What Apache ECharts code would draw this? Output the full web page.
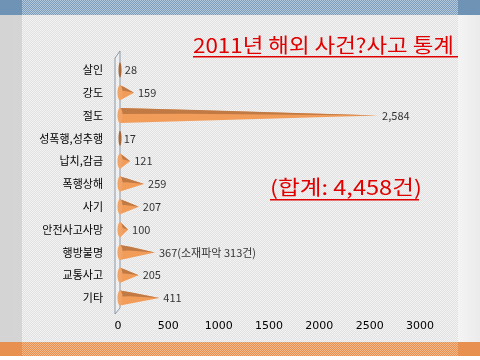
<!DOCTYPE html>
<html><head><meta charset="utf-8">
<script src="https://cdn.jsdelivr.net/npm/echarts@6/dist/echarts.min.js"></script>
<style>html,body{margin:0;padding:0;background:#fff}#c{width:480px;height:360px}</style>
</head><body><div id="c"></div>
<script>
const categories = ['살인','강도','절도','성폭행,성추행','납치,감금','폭행상해','사기','안전사고사망','행방불명','교통사고','기타'];
const values = [28,159,2584,17,121,259,207,100,367,205,411];
const valueLabels = ['28','159','2,584','17','121','259','207','100','367(소재파악 313건)','205','411'];
const xTicks = [0,500,1000,1500,2000,2500,3000];
const titleText = '2011년 해외 사건?사고 통계';
const totalText = '(합계: 4,458건)';

function dotPattern(c1, c2){
  const cv = document.createElement('canvas'); cv.width = 2; cv.height = 2;
  const g = cv.getContext('2d');
  g.fillStyle = c1; g.fillRect(0,0,2,2);
  g.fillStyle = c2; g.fillRect(0,0,1,1); g.fillRect(1,1,1,1);
  return {image: cv, repeat: 'repeat'};
}

const chart = echarts.init(document.getElementById('c'), null, {renderer:'canvas'});
const KR = '"Noto Sans CJK KR", "DejaVu Sans", sans-serif';

chart.setOption({
  animation: false,
  backgroundColor: '#ffffff',
  graphic: [
    {type:'rect', z:-10, shape:{x:0,y:0,width:480,height:342}, style:{fill:new echarts.graphic.LinearGradient(0,0,1,0,[{offset:0,color:'#d4d4d4'},{offset:1,color:'#e4e4e4'}])}},
    {type:'rect', z:-9, shape:{x:22,y:0,width:436,height:342}, style:{fill:dotPattern('#e2e2e2','#f2f2f2')}},
    {type:'rect', z:-9, shape:{x:458,y:0,width:22,height:342}, style:{fill:new echarts.graphic.LinearGradient(0,0,1,0,[{offset:0,color:'#f4f4f4'},{offset:1,color:'#ebebeb'}])}},
    {type:'rect', z:-8, shape:{x:0,y:0,width:480,height:15}, style:{fill:'#6f93b5'}},
    {type:'rect', z:-7, shape:{x:22,y:0,width:436,height:15}, style:{fill:dotPattern('#7d9dbb','#b3c8da')}},
    {type:'rect', z:-8, shape:{x:0,y:342,width:480,height:14}, style:{fill:'#e8904f'}},
    {type:'rect', z:-7, shape:{x:22,y:342,width:436,height:14}, style:{fill:dotPattern('#e8904f','#f2b98c')}},
    // wall of the 3D chart
    {type:'polyline', z:5, shape:{points:[[115,58],[120,51],[120,308],[115,314],[115,58]]}, style:{stroke:'#8c98a8', lineWidth:1, fill:'rgba(255,255,255,0.25)'}},
    // title
    {type:'text', z:10, x:193, y:35, scaleX:1.12, style:{text:titleText, fill:'#e00000', font:'20px '+KR}},
    {type:'rect', z:10, shape:{x:193,y:56,width:265,height:1.5}, style:{fill:'#e00000'}},
    {type:'text', z:10, x:270, y:177, scaleX:1.18, style:{text:totalText, fill:'#e00000', font:'20px '+KR}},
    {type:'rect', z:10, shape:{x:270,y:199,width:149,height:1.5}, style:{fill:'#e00000'}}
  ],
  grid: {left:118, right:60, top:58.5, bottom:50.5, containLabel:false},
  xAxis: {
    type:'value', min:0, max:3000, interval:500,
    axisLine:{show:false}, axisTick:{show:false}, splitLine:{show:false},
    axisLabel:{color:'#000', fontSize:11, fontFamily:'"DejaVu Sans", sans-serif', margin:11,
      formatter: v => xTicks.includes(v) ? String(v) : ''}
  },
  yAxis: {
    type:'category', data:categories, inverse:true,
    axisLine:{show:false}, axisTick:{show:false},
    axisLabel:{color:'#000', fontSize:11, fontFamily:KR, margin:15}
  },
  series: [
    {
      type:'custom', z:6,
      data: values.map((v,i)=>[v,i]),
      encode:{x:0, y:1},
      renderItem(params, api){
        const v = api.value(0), c = api.value(1);
        const p0 = api.coord([0,c]), p1 = api.coord([v,c]);
        const x0 = p0[0]+2, y = p0[1], h = 7.5;
        const xt = p1[0];
        const len = xt - x0;
        return {type:'group', children:[
          {type:'polygon', shape:{points:[[x0,y-h],[x0,y+h],[xt,y]]}, style:{fill:'#f29c5a'}},
          {type:'polygon', shape:{points:[[x0,y-h],[x0+len*0.3,y-h*0.75],[xt,y],[x0+len*0.25,y-h*0.25],[x0,y-h*0.2]]}, style:{fill:'#c27a45'}},
          {type:'ellipse', shape:{cx:x0, cy:y, rx:Math.min(2.5, Math.max(1.5,len*0.5)), ry:h}, style:{fill: len < 4 ? '#a8683a' : '#f0a468'}}
        ]};
      }
    },
    {
      type:'scatter', z:7, symbolSize:0,
      data: values.map((v,i)=>[v,i]),
      label:{show:true, position:'right', distance:4, color:'#000', fontSize:11, fontFamily:KR,
        formatter: p => valueLabels[p.dataIndex]}
    }
  ]
});
</script></body></html>
